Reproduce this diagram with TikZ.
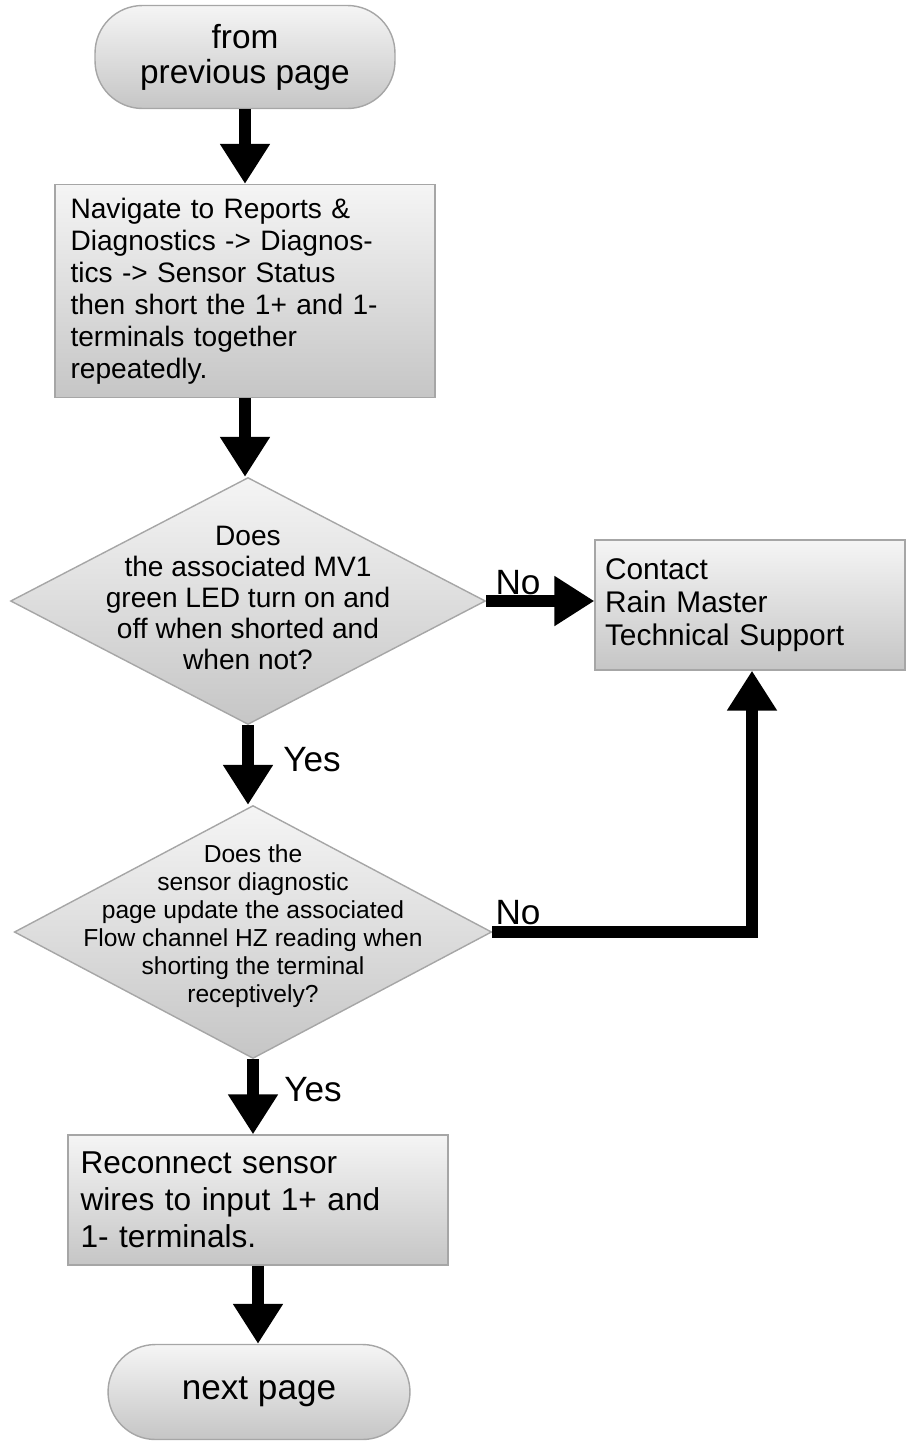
\documentclass[tikz,border=0pt]{standalone}
\usepackage{fontspec}
\setmainfont{Liberation Sans}
\usetikzlibrary{shapes.geometric,arrows.meta}

\begin{document}
\begin{tikzpicture}[x=0.02cm,y=-0.02cm,
    box/.style={draw=gray!70,thick,top color=gray!8,bottom color=gray!45,inner sep=0},
    term/.style={box,rounded corners=0.95cm},
    dia/.style={box,diamond,inner sep=0},
    flow/.style={line width=6.5pt,-{Triangle[width=0.95cm,length=0.8cm]}},
    lbl/.style={font=\fontsize{20}{22}\selectfont}]
    \useasboundingbox (0,0) rectangle (909,1454);
    % terminals and boxes
    \node[term,minimum width=6cm,minimum height=2.06cm,align=center,
          font=\fontsize{19}{20}\selectfont] (start) at (245,57) {from\\previous page};
    \node[box,minimum width=7.6cm,minimum height=4.26cm] (nav) at (245,291) {};
    \node[align=left,text width=7.1cm,font=\fontsize{16}{18.2}\selectfont] at (248,291)
        {Navigate to Reports \&\\Diagnostics -> Diagnos-\\tics -> Sensor Status\\then short the 1+ and 1-\\terminals together\\repeatedly.};
    \node[dia,minimum width=9.5cm,minimum height=4.94cm] (led) at (248,601) {};
    \node[align=center,font=\fontsize{16}{17.6}\selectfont] at (248,598)
        {Does\\the associated MV1\\green LED turn on and\\off when shorted and\\when not?};
    \node[box,minimum width=6.2cm,minimum height=2.6cm] (support) at (750,605) {};
    \node[align=left,text width=5.8cm,font=\fontsize{17}{18.6}\selectfont] at (support)
        {Contact\\Rain Master\\Technical Support};
    \node[dia,minimum width=9.55cm,minimum height=5.06cm] (hz) at (253,932) {};
    \node[align=center,font=\fontsize{14}{16}\selectfont] at (253,926)
        {Does the\\sensor diagnostic\\page update the associated\\Flow channel HZ reading when\\shorting the terminal\\receptively?};
    \node[box,minimum width=7.6cm,minimum height=2.6cm] (recon) at (258,1200) {};
    \node[align=left,text width=7.1cm,font=\fontsize{18}{21}\selectfont] at (recon)
        {Reconnect sensor\\wires to input 1+ and\\1- terminals.};
    \node[term,minimum width=6.04cm,minimum height=1.9cm,
          font=\fontsize{20}{22}\selectfont] (stop) at (259,1392) {next page};
    % connectors
    \draw[flow] (start) -- (nav);
    \draw[flow] (nav.south) -- (nav.south |- led.north);
    \draw[flow] (led.east) -- (led.east -| support.west);
    \node[lbl] at (518,583) {No};
    \draw[flow] (led.south) -- (led.south |- hz.north);
    \node[lbl] at (312,760) {Yes};
    \coordinate (corner) at (752,932);
    \draw[flow] (hz.east) -- (corner) -- (support.south -| corner);
    \node[lbl] at (518,913) {No};
    \draw[flow] (hz.south) -- (hz.south |- recon.north);
    \node[lbl] at (313,1090) {Yes};
    \draw[flow] (recon.south) -- (recon.south |- stop.north);
\end{tikzpicture}
\end{document}
